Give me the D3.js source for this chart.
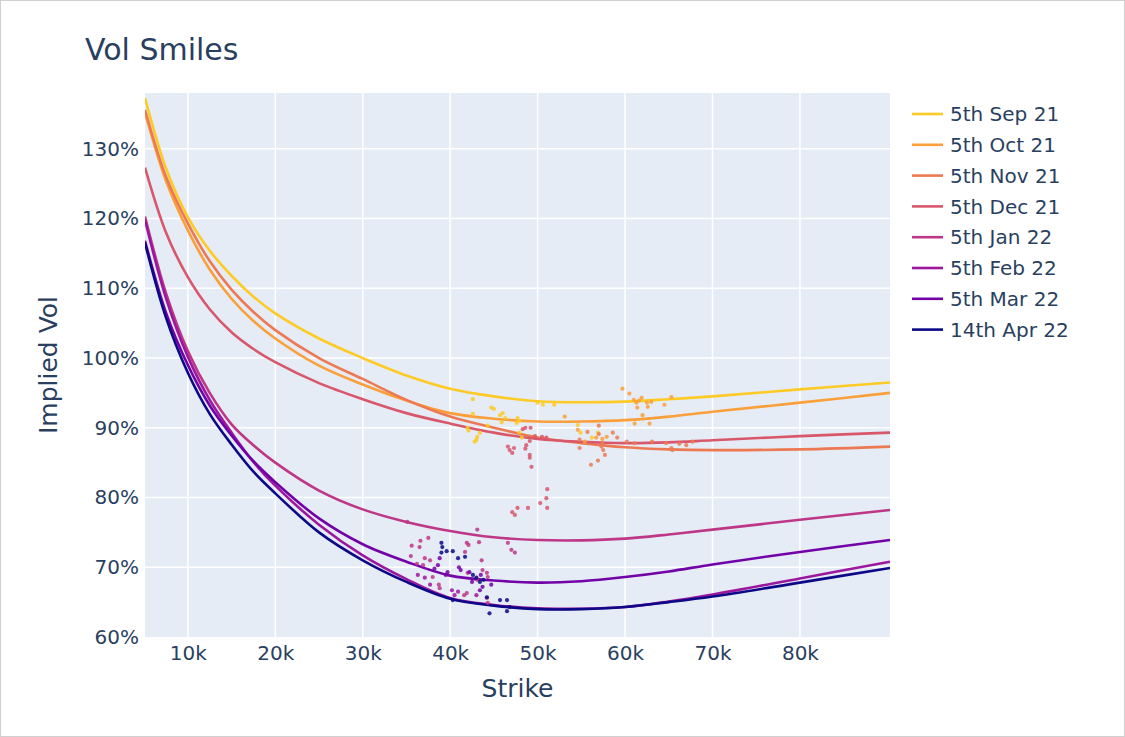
<!DOCTYPE html>
<html>
<head>
<meta charset="utf-8">
<script src="https://cdn.jsdelivr.net/npm/d3@7"></script>
<style>
  html, body { margin: 0; padding: 0; background: #fff; }
  svg { display: block; }
</style>
</head>
<body>
<svg id="chart" width="1125" height="737"></svg>
<script>
// ---------- DATA ----------
const seriesNames = ["5th Sep 21", "5th Oct 21", "5th Nov 21", "5th Dec 21", "5th Jan 22", "5th Feb 22", "5th Mar 22", "14th Apr 22"];
const seriesColors = ["#fdca26", "#fb9f3a", "#ed7953", "#d8576b", "#bd3786", "#9c179e", "#7201a8", "#0d0887"];

// fitted smile strikes
const strikes = [5100, 7500, 10000, 12500, 15000, 17500, 20000, 25000, 30000, 35000, 40000, 45000, 50000, 55000, 60000, 65000, 70000, 80000, 90300];

// fitted implied vols (%) per expiry
const volSep = [137.3, 127.2, 120.2, 115.4, 111.8, 108.8, 106.4, 102.8, 100.0, 97.5, 95.6, 94.5, 93.8, 93.65, 93.75, 94.1, 94.5, 95.5, 96.5];
const volOct = [135.2, 125.4, 118.3, 112.7, 108.5, 105.3, 102.8, 98.9, 96.2, 93.9, 92.1, 91.3, 90.9, 90.9, 91.1, 91.6, 92.3, 93.6, 95.0];
const volNov = [135.6, 126.0, 119.3, 113.9, 109.8, 106.6, 104.0, 100.0, 97.0, 94.0, 91.6, 90.0, 88.6, 87.8, 87.2, 86.9, 86.8, 86.9, 87.3];
const volDec = [127.3, 118.0, 111.6, 107.0, 103.7, 101.3, 99.4, 96.4, 94.1, 92.1, 90.6, 89.3, 88.4, 88.0, 87.8, 87.9, 88.2, 88.8, 89.3];
const volJan = [120.3, 109.3, 101.0, 95.0, 90.5, 87.5, 85.0, 81.0, 78.3, 76.5, 75.2, 74.3, 73.9, 73.85, 74.1, 74.7, 75.4, 76.8, 78.2];
const volFeb = [119.8, 108.6, 100.2, 94.0, 89.3, 85.1, 81.7, 76.1, 71.7, 68.3, 65.6, 64.6, 64.1, 64.05, 64.3, 65.1, 66.1, 68.4, 70.8];
const volMar = [116.8, 106.5, 99.0, 93.2, 88.9, 85.2, 82.2, 77.0, 73.3, 70.8, 68.8, 68.1, 67.8, 68.0, 68.6, 69.4, 70.4, 72.2, 73.9];
const volApr = [116.5, 105.8, 97.9, 92.0, 87.6, 83.7, 80.6, 75.0, 71.0, 67.9, 65.5, 64.5, 64.0, 64.0, 64.3, 65.0, 65.8, 67.8, 69.9];

// market quotes [strike (k), vol %]
const mktSep = [[42.6,94.1],[44.7,92.9],[45.0,92.7],[45.7,91.8],[46.3,91.4],[46.0,92.1],[47.7,91.4],[47.9,91.0],[42.6,92.0],[45.9,90.8],[47.6,90.7],[42.0,90.0],[42.1,89.6],[43.4,89.3],[43.1,88.7],[42.8,88.0],[43.0,88.3],[44.3,90.3],[47.9,89.3],[48.2,88.6],[50.0,93.6],[50.6,93.3],[51.9,93.3],[54.6,90.4],[54.9,89.3],[56.2,88.6],[56.9,89.3]];
const mktOct = [[53.1,91.6],[54.6,89.7],[55.4,88.0],[56.7,88.6],[57.4,88.4],[57.9,88.7],[59.7,95.6],[60.5,94.9],[61.0,94.0],[61.3,93.6],[61.9,94.3],[61.6,93.9],[61.4,92.9],[62.5,93.6],[62.6,93.0],[63.0,93.7],[64.5,93.3],[65.3,94.4],[62.0,91.8],[61.1,90.6],[62.8,90.6]];
const mktNov = [[54.8,88.3],[54.8,87.1],[55.7,89.4],[57.0,90.3],[57.0,89.1],[57.4,87.8],[57.5,86.8],[57.7,86.1],[57.3,87.3],[58.6,89.3],[59.1,88.6],[56.1,84.7],[56.9,85.3],[60.2,88.0],[61.1,87.8],[63.1,88.0],[64.7,87.8],[65.3,87.1],[65.4,86.8],[66.2,87.7],[67.0,87.5],[67.7,88.0]];
const mktDec = [[48.3,89.8],[48.6,90.0],[49.2,90.0],[49.7,88.8],[50.5,88.7],[51.0,88.6],[49.1,88.1],[48.7,87.5],[48.6,87.0],[46.6,87.3],[46.8,86.8],[47.1,86.4],[47.3,87.1],[49.1,86.1],[49.1,85.7],[49.3,84.4],[51.1,81.2],[51.0,79.9],[50.3,79.2],[51.1,78.5],[48.9,78.5],[47.7,78.5],[47.1,77.9],[47.4,77.5]];
const mktJan = [[35.6,73.1],[35.5,71.6],[36.6,73.8],[36.5,72.9],[37.5,74.2],[37.1,71.3],[37.7,71.0],[36.2,70.5],[36.9,70.3],[38.0,68.6],[38.8,67.0],[38.7,67.5],[41.9,73.5],[42.1,73.2],[41.7,72.2],[43.1,75.4],[43.3,73.6],[43.6,71.0],[44.2,69.2],[44.3,68.6],[43.7,69.6],[43.1,68.2],[41.9,66.3],[41.6,66.0],[44.2,65.6],[44.3,64.9],[42.0,69.2],[35.1,76.5],[46.6,73.5],[47.0,72.5],[47.4,72.1]];
const mktFeb = [[40.2,66.7],[40.5,66.0],[40.9,66.5],[43.0,66.0],[37.1,68.5],[37.7,67.5],[36.3,68.9]];
const mktMar = [[38.8,71.3],[38.6,70.3],[38.2,69.8],[39.7,69.3],[39.5,68.9],[41.0,70.0],[41.2,69.6],[42.2,69.3],[42.5,67.9],[43.7,67.2],[43.5,68.9],[44.7,67.5],[43.4,66.7]];
const mktApr = [[39.0,73.5],[39.1,72.9],[39.0,72.1],[39.6,72.3],[40.3,72.3],[40.9,71.3],[41.7,71.5],[42.6,68.9],[43.0,68.5],[43.4,67.9],[43.8,68.2],[40.3,65.3],[44.2,65.7],[45.7,65.3],[46.5,65.3],[44.5,63.4],[46.8,64.3],[46.5,63.7]];

const yTicks = [60, 70, 80, 90, 100, 110, 120, 130];
const xTicks = [10000, 20000, 30000, 40000, 50000, 60000, 70000, 80000];

const fitted = [volSep, volOct, volNov, volDec, volJan, volFeb, volMar, volApr];
const market = [mktSep, mktOct, mktNov, mktDec, mktJan, mktFeb, mktMar, mktApr];

// ---------- LAYOUT ----------
const W = 1125, H = 737;
const M = { left: 145, right: 890, top: 93, bottom: 637 };
const FONT = "'DejaVu Sans', Verdana, sans-serif";
const TEXT = "#2a3f5f";

const svg = d3.select("#chart");
svg.append("rect").attr("x", 0).attr("y", 0).attr("width", W).attr("height", H).attr("fill", "#fff");
svg.append("rect").attr("x", 0.5).attr("y", 0.5).attr("width", W - 1).attr("height", H - 1)
   .attr("fill", "none").attr("stroke", "#d0d0d0").attr("stroke-width", 1);

const x = d3.scaleLinear().domain([5100, 90300]).range([M.left, M.right]);
const y = d3.scaleLinear().domain([60, 138]).range([M.bottom, M.top]);

// plot background
svg.append("rect").attr("x", M.left).attr("y", M.top)
   .attr("width", M.right - M.left).attr("height", M.bottom - M.top).attr("fill", "#E5ECF6");

// grid
const grid = svg.append("g");
grid.selectAll("line.vx").data(xTicks).join("line")
  .attr("x1", d => x(d)).attr("x2", d => x(d)).attr("y1", M.top).attr("y2", M.bottom)
  .attr("stroke", "#fff").attr("stroke-width", 1.5);
grid.selectAll("line.hy").data(yTicks.filter(d => d > 60)).join("line")
  .attr("x1", M.left).attr("x2", M.right).attr("y1", d => y(d)).attr("y2", d => y(d))
  .attr("stroke", "#fff").attr("stroke-width", 1.5);

// axes (d3 axes, styled)
const xAxis = d3.axisBottom(x).tickValues(xTicks).tickFormat(d => (d / 1000) + "k").tickSize(0).tickPadding(9);
const gx = svg.append("g").attr("transform", `translate(0,${M.bottom})`).call(xAxis);
gx.select(".domain").remove();
gx.selectAll("text").attr("font-family", FONT).attr("font-size", 20).attr("fill", TEXT).attr("dy", "0.71em");

const yAxis = d3.axisLeft(y).tickValues(yTicks).tickFormat(d => d + "%").tickSize(0).tickPadding(6);
const gy = svg.append("g").attr("transform", `translate(${M.left},0)`).call(yAxis);
gy.select(".domain").remove();
gy.selectAll("text").attr("font-family", FONT).attr("font-size", 20).attr("fill", TEXT);

// clip
svg.append("defs").append("clipPath").attr("id", "plotclip")
  .append("rect").attr("x", M.left).attr("y", M.top).attr("width", M.right - M.left).attr("height", M.bottom - M.top);

const plot = svg.append("g").attr("clip-path", "url(#plotclip)");
const line = d3.line().x(d => x(d[0])).y(d => y(d[1])).curve(d3.curveCatmullRom.alpha(0.5));

fitted.forEach((vals, i) => {
  const pts = strikes.map((s, j) => [s, vals[j]]);
  plot.append("path").datum(pts).attr("d", line)
    .attr("fill", "none").attr("stroke", seriesColors[i]).attr("stroke-width", 2.6);
});
market.forEach((pts, i) => {
  plot.append("g").selectAll("circle").data(pts).join("circle")
    .attr("cx", d => x(d[0] * 1000)).attr("cy", d => y(d[1])).attr("r", 2.1)
    .attr("fill", seriesColors[i]).attr("opacity", 0.85);
});

// titles
svg.append("text").attr("x", 85).attr("y", 60).text("Vol Smiles")
  .attr("font-family", FONT).attr("font-size", 30).attr("fill", TEXT);
svg.append("text").attr("x", (M.left + M.right) / 2).attr("y", 697).attr("text-anchor", "middle").text("Strike")
  .attr("font-family", FONT).attr("font-size", 25).attr("fill", TEXT);
svg.append("text").attr("transform", `translate(57,${(M.top + M.bottom) / 2}) rotate(-90)`)
  .attr("text-anchor", "middle").text("Implied Vol")
  .attr("font-family", FONT).attr("font-size", 25).attr("fill", TEXT);

// legend
const leg = svg.append("g");
seriesNames.forEach((name, i) => {
  const yy = 114 + i * 30.8;
  leg.append("line").attr("x1", 912).attr("x2", 943).attr("y1", yy).attr("y2", yy)
    .attr("stroke", seriesColors[i]).attr("stroke-width", 2.6);
  leg.append("text").attr("x", 950).attr("y", yy).attr("dy", "0.36em").text(name)
    .attr("font-family", FONT).attr("font-size", 20).attr("fill", TEXT);
});
</script>
</body>
</html>
